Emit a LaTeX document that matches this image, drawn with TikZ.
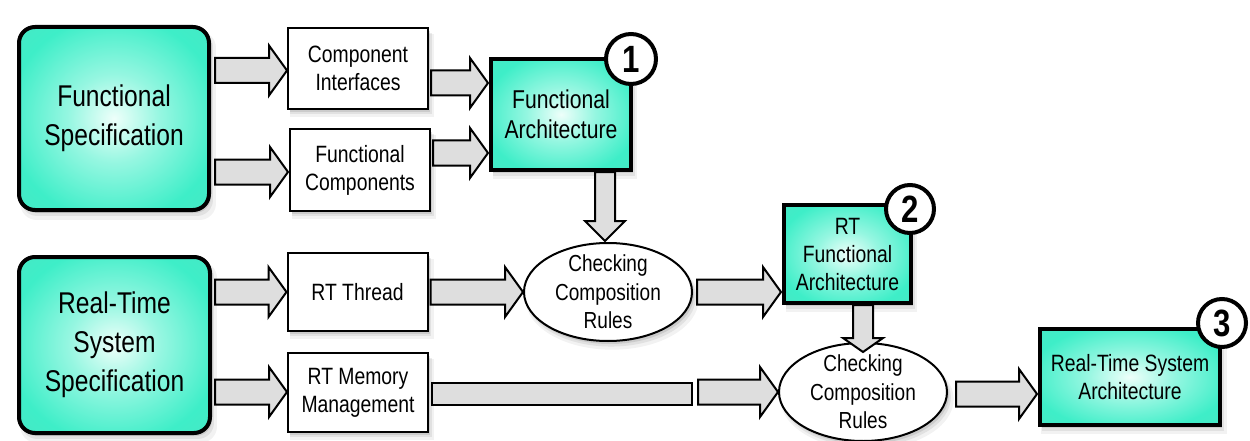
\documentclass[tikz,border=0pt]{standalone}
\usepackage{fontspec}
\setmainfont[FakeStretch=0.82]{Liberation Sans}
\usetikzlibrary{shadows,calc,shapes.geometric}

\definecolor{tealA}{RGB}{238,255,250}
\definecolor{tealB}{RGB}{62,238,200}
\definecolor{tealC}{RGB}{105,208,184}
\definecolor{tealD}{RGB}{150,188,178}
\definecolor{arrowgray}{RGB}{222,222,222}

\pgfdeclareradialshading{specfill}{\pgfpoint{0bp}{0bp}}{%
  color(0bp)=(tealA); color(12bp)=(tealA!50!tealB); color(28bp)=(tealB);
  color(45bp)=(tealB!60!tealC); color(56bp)=(tealC); color(75bp)=(tealD)}

% block arrow geometry: shaft half width, head half width, head length
\def\aw{12.5pt}\def\ahw{25pt}\def\ahl{18pt}
\def\vw{10pt}\def\vhw{20pt}\def\vhl{20pt}

% horizontal block arrow: x from both points, y from the end point
\newcommand\harrow[2]{%
  \draw[blockarrow] let \p1=(#1), \p2=(#2) in
    ({\x1},{\y2+\aw}) -- ({\x2-\ahl},{\y2+\aw}) -- ({\x2-\ahl},{\y2+\ahw})
    -- (\x2,\y2) -- ({\x2-\ahl},{\y2-\ahw}) -- ({\x2-\ahl},{\y2-\aw})
    -- ({\x1},{\y2-\aw}) -- cycle;}
% downward block arrow: y from both points, x from the end point
\newcommand\varrow[3][\vhl]{%
  \draw[blockarrow] let \p1=(#2), \p2=(#3) in
    ({\x2-\vw},\y1) -- ({\x2-\vw},{\y2+#1}) -- ({\x2-\vhw},{\y2+#1})
    -- (\x2,\y2) -- ({\x2+\vhw},{\y2+#1}) -- ({\x2+\vw},{\y2+#1})
    -- ({\x2+\vw},\y1) -- cycle;}

\begin{document}
\begin{tikzpicture}[x=1pt,y=-1pt,
  shadowed/.style={
      drop shadow={shadow xshift=4pt,shadow yshift=-7pt,opacity=.10,shadow scale=1.03},
      drop shadow={shadow xshift=3pt,shadow yshift=-5pt,opacity=.15,shadow scale=1.01},
      drop shadow={shadow xshift=2pt,shadow yshift=-3pt,opacity=.22}},
  spec/.style={draw,line width=4pt,rounded corners=16pt,shading=specfill,
      shadowed,align=center,inner sep=0pt,
      font=\fontsize{30}{39}\selectfont},
  smallbox/.style={draw,line width=2pt,fill=white,shadowed,align=center,
      inner sep=0pt,minimum width=140pt,font=\fontsize{23.6}{28}\selectfont},
  arch/.style={draw,line width=4pt,shading=specfill,shadowed,align=center,
      inner sep=0pt},
  check/.style={ellipse,draw,line width=2pt,fill=white,shadowed,align=center,
      inner xsep=0pt,inner ysep=-6pt,minimum width=168pt,minimum height=98pt,
      font=\fontsize{23.2}{28.5}\selectfont},
  badge/.style={circle,draw,line width=4pt,fill=white,minimum size=48pt,
      inner sep=0pt,font=\bfseries\fontsize{38}{38}\selectfont},
  blockarrow/.style={draw,line width=2pt,fill=arrowgray,line join=miter}]

\fill[white] (0,0) rectangle (1250,441);
\useasboundingbox (0,0) rectangle (1250,441);

% specifications
\node[spec,minimum width=190pt,minimum height=183pt] (fs) at (114,118.5)
  {Functional\\Specification};
\node[spec,minimum width=191pt,minimum height=176pt] (rts) at (114.5,345)
  {Real-Time\\System\\Specification};

% intermediate artefacts
\node[smallbox,minimum height=81pt] (ci) at (358,68.5) {Component\\Interfaces};
\node[smallbox,minimum height=82pt] (fc) at (360,170) {Functional\\Components};
\node[smallbox,minimum height=78pt] (rtt) at (357.5,292) {RT Thread};
\node[smallbox,minimum height=79pt] (rtm) at (358,392.5) {RT Memory\\Management};

% architectures
\node[arch,minimum width=140pt,minimum height=111pt,
      font=\fontsize{25.8}{30}\selectfont] (fa) at (561,114.5)
  {Functional\\Architecture};
\node[arch,minimum width=127pt,minimum height=98pt,
      font=\fontsize{23.6}{28}\selectfont] (rtfa) at (847.5,254)
  {RT\\Functional\\Architecture};
\node[arch,minimum width=180pt,minimum height=96pt,
      font=\fontsize{23.6}{28}\selectfont] (rtsa) at (1130,377)
  {Real-Time System\\Architecture};

% composition checks
\node[check] (cc1) at (608,292) {Checking\\Composition\\Rules};
\node[check] (cc2) at (863,392) {Checking\\Composition\\Rules};

% connectors
\harrow{$(fs.east|-ci.west)+(4,0)$}{$(ci.west)+(0,2)$}
\harrow{$(fs.east|-fc.west)+(4,0)$}{$(fc.west)+(-1,2)$}
\harrow{$(ci.east)+(2,0)$}{$(fa.west)+(-1,-31.5)$}
\harrow{$(fc.east)+(2,0)$}{$(fa.west)+(-1,38.5)$}
\varrow{fa.south}{$(cc1.north)+(-3,-1)$}
\harrow{$(rts.east|-rtt.west)+(3,0)$}{rtt.west}
\harrow{$(rts.east|-rtm.west)+(3,0)$}{$(rtm.west)+(0,-0.5)$}
\harrow{$(rtt.east)+(2,0)$}{cc1.west}
\harrow{$(cc1.east)+(4,0)$}{$(rtfa.west|-cc1.east)+(-1,0)$}

\coordinate (brk) at (692,392);
\draw[blockarrow] ($(rtm.east)+(3,-9.5)$) rectangle ($(brk)+(0,12.5)$);
\harrow{$(brk)+(6,0)$}{cc2.west}
\varrow[14pt]{rtfa.south}{$(cc2.north)+(0,10)$}
\harrow{$(cc2.east)+(8,0)$}{$(rtsa.west|-cc2.east)+(-1,2)$}

% step numbers
\node[badge,minimum size=50pt] (n1) at (631,59) {1};
\node[badge] (n2) at (910,209) {2};
\node[badge] (n3) at (1222,323) {3};
\end{tikzpicture}
\end{document}
